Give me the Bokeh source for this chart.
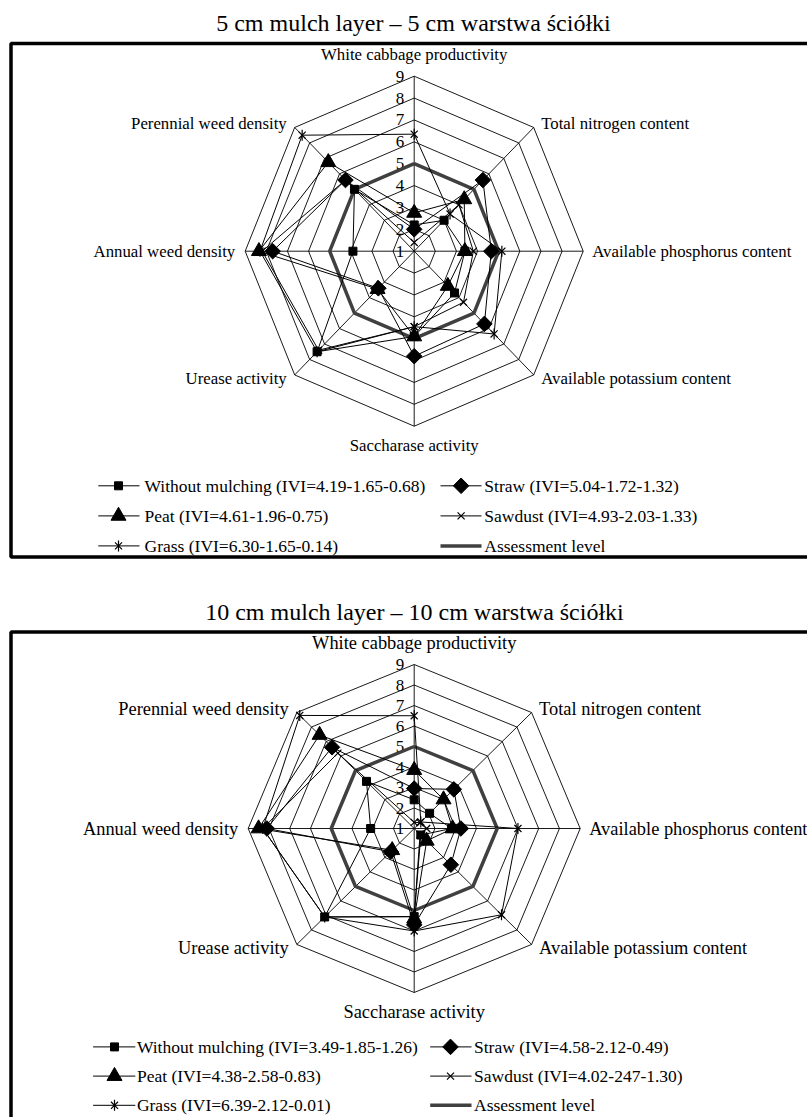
import math
from bokeh.plotting import figure
from bokeh.layouts import column
from bokeh.models import Range1d
from bokeh.core.properties import value
from bokeh.embed import file_html
from bokeh.resources import INLINE

# ---------------- data ----------------
categories = ["White cabbage productivity", "Total nitrogen content",
              "Available phosphorus content", "Available potassium content",
              "Saccharase activity", "Urease activity",
              "Annual weed density", "Perennial weed density"]
tick_values = [1, 2, 3, 4, 5, 6, 7, 8, 9]
tick_labels = ["1", "2", "3", "4", "5", "6", "7", "8", "9"]

title_5cm = "5 cm mulch layer \u2013 5 cm warstwa \u015bci\u00f3\u0142ki"
title_10cm = "10 cm mulch layer \u2013 10 cm warstwa \u015bci\u00f3\u0142ki"

legend_5cm = ["Without mulching (IVI=4.19-1.65-0.68)", "Straw (IVI=5.04-1.72-1.32)",
              "Peat (IVI=4.61-1.96-0.75)", "Sawdust (IVI=4.93-2.03-1.33)",
              "Grass (IVI=6.30-1.65-0.14)", "Assessment level"]
legend_10cm = ["Without mulching (IVI=3.49-1.85-1.26)", "Straw  (IVI=4.58-2.12-0.49)",
               "Peat (IVI=4.38-2.58-0.83)", "Sawdust (IVI=4.02-247-1.30)",
               "Grass (IVI=6.39-2.12-0.01)", "Assessment level"]

# 5 cm mulch layer
without_5cm = [2.2, 3.0, 3.4, 3.7, 4.9, 7.5, 3.9, 5.0]
straw_5cm = [2.0, 5.6, 4.65, 5.7, 5.8, 3.4, 7.7, 5.6]
peat_5cm = [2.75, 4.35, 3.4, 3.25, 4.9, 3.45, 8.35, 6.75]
sawdust_5cm = [1.4, 4.0, 3.8, 4.3, 4.45, 7.4, 8.2, 5.6]
grass_5cm = [6.35, 3.4, 5.15, 6.35, 4.45, 7.5, 8.3, 8.5]

# 10 cm mulch layer
without_10cm = [2.4, 2.05, 2.8, 1.45, 5.3, 7.1, 3.1, 4.25]
straw_10cm = [2.95, 3.7, 3.25, 3.5, 5.7, 2.6, 8.1, 6.6]
peat_10cm = [3.85, 3.0, 2.85, 1.85, 5.4, 2.5, 8.5, 7.45]
sawdust_10cm = [1.3, 1.4, 1.6, 1.4, 5.3, 7.1, 8.3, 6.2]
grass_10cm = [6.5, 1.45, 6.0, 6.95, 6.0, 7.1, 8.3, 8.8]

assessment_level = [5, 5, 5, 5, 5, 5, 5, 5]

markers = ["square", "diamond", "triangle", "x", "asterisk"]

# ---------------- style / layout ----------------
FONT = value("Liberation Serif")
PAGE_W = 807
ASSESS_COLOR = "#404040"
VMIN, VMAX = tick_values[0], tick_values[-1]


def draw_marker(p, kind, xs, ys):
    if kind == "square":
        p.scatter(xs, ys, marker="square", size=8, fill_color="black", line_color="black")
    elif kind == "diamond":
        p.scatter(xs, ys, marker="square", angle=math.pi / 4, size=11,
                  fill_color="black", line_color="black")
    elif kind == "triangle":
        p.scatter(xs, ys, marker="triangle", size=15, fill_color="black", line_color="black")
    elif kind == "x":
        p.scatter(xs, ys, marker="x", size=10, line_color="black", line_width=1.2)
    elif kind == "asterisk":
        p.scatter(xs, ys, marker="x", size=10, line_color="black", line_width=1.2)
        p.scatter(xs, ys, marker="dash", angle=math.pi / 2, size=11,
                  line_color="black", line_width=1.2)


def make_chart(height, top_img, cx, cy, rx, ry, title, title_x, title_mid,
               box_top, box_bottom, series, legend_labels, leg_rows, leg_cols, label_size):
    ux = rx / (VMAX - VMIN)
    uy = ry / (VMAX - VMIN)

    def X(xi):
        return (xi - cx) / ux

    def Y(yi):
        return (cy - yi) / uy

    p = figure(width=PAGE_W, height=height,
               x_range=Range1d(X(0), X(PAGE_W)),
               y_range=Range1d(Y(top_img + height), Y(top_img)),
               output_backend="svg", toolbar_location=None, min_border=0,
               x_axis_location=None, y_axis_location=None)
    p.grid.visible = False
    p.outline_line_color = None
    p.background_fill_color = "white"
    p.border_fill_color = "white"

    n = len(categories)
    ang = [2 * math.pi * k / n for k in range(n)]

    # frame box and title
    p.quad(left=X(10.5), right=X(950), top=Y(box_top), bottom=Y(box_bottom),
           fill_color=None, line_color="black", line_width=3.5)
    p.text(x=[X(title_x)], y=[Y(title_mid)], text=[title], text_font=FONT,
           text_font_size="24px", text_align="center", text_baseline="middle",
           text_color="black")

    # rings
    rr = VMAX - VMIN
    for t in tick_values[1:]:
        r = t - VMIN
        xs = [r * math.sin(a) for a in ang] + [0.0]
        ys = [r * math.cos(a) for a in ang] + [r]
        p.line(xs, ys, line_color="black", line_width=0.9)
    # spokes
    p.segment(x0=[0] * n, y0=[0] * n,
              x1=[rr * math.sin(a) for a in ang], y1=[rr * math.cos(a) for a in ang],
              line_color="black", line_width=0.9)

    # tick labels along top axis
    p.text(x=[-10 / ux] * len(tick_values), y=[t - VMIN for t in tick_values],
           text=tick_labels, text_font=FONT, text_font_size="17px",
           text_align="right", text_baseline="middle", text_color="black")

    # category labels: align, dx_px, dy_px (down positive, text middle)
    spec = [("center", 0, -22), ("left", 7.5, -3.5), ("left", 9, 0), ("left", 7.5, 4),
            ("center", 0, 19), ("right", -8, 4), ("right", -10, 0), ("right", -8, -3.5)]
    for k, (al, dx, dy) in enumerate(spec):
        vx = rr * math.sin(ang[k])
        vy = rr * math.cos(ang[k])
        p.text(x=[vx + dx / ux], y=[vy - dy / uy], text=[categories[k]], text_font=FONT,
               text_font_size=label_size, text_align=al, text_baseline="middle",
               text_color="black")

    # assessment level
    axs = [(v - VMIN) * math.sin(a) for v, a in zip(assessment_level, ang)]
    ays = [(v - VMIN) * math.cos(a) for v, a in zip(assessment_level, ang)]
    p.line(axs + axs[:1], ays + ays[:1], line_color=ASSESS_COLOR, line_width=3.5)

    # series
    for vals, mk in zip(series, markers):
        xs = [(v - VMIN) * math.sin(a) for v, a in zip(vals, ang)]
        ys = [(v - VMIN) * math.cos(a) for v, a in zip(vals, ang)]
        p.line(xs + xs[:1], ys + ys[:1], line_color="black", line_width=1)
        draw_marker(p, mk, xs, ys)

    # legend (2 columns x 3 rows)
    for i, lab in enumerate(legend_labels):
        row, col = divmod(i, 2)
        ym = leg_rows[row]
        lx0, lx1, mx, tx = leg_cols[col]
        if i < len(markers):
            p.line([X(lx0), X(lx1)], [Y(ym), Y(ym)], line_color="black", line_width=1)
            draw_marker(p, markers[i], [X(mx)], [Y(ym)])
        else:
            p.line([X(lx0), X(lx1)], [Y(ym), Y(ym)], line_color=ASSESS_COLOR, line_width=3.5)
        p.text(x=[X(tx)], y=[Y(ym)], text=[lab], text_font=FONT,
               text_font_size="17.5px", text_align="left", text_baseline="middle",
               text_color="black")
    return p


H_TOP = 585
H_BOT = 1117 - H_TOP

p1 = make_chart(H_TOP, 0, 413.7, 250.7, 169, 175, title_5cm, 413, 22.5, 43, 556.5,
                [without_5cm, straw_5cm, peat_5cm, sawdust_5cm, grass_5cm], legend_5cm,
                [485.3, 515.4, 545.4],
                [(97.8, 139, 118, 144), (440, 481, 460.6, 483.8)], "16.8px")

p2 = make_chart(H_BOT, H_TOP, 413.7, 828, 166, 164, title_10cm, 414, 611.5, 631.5, 1140,
                [without_10cm, straw_10cm, peat_10cm, sawdust_10cm, grass_10cm], legend_10cm,
                [1046.4, 1075.6, 1104.8],
                [(92.6, 134.8, 114, 136.4), (429.7, 471, 450, 473.5)], "18.4px")

layout = column(p1, p2, spacing=0)
open("out.html", "w").write(file_html(layout, INLINE))
